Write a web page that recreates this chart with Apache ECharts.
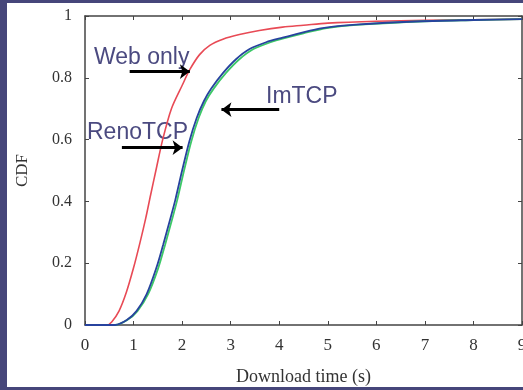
<!DOCTYPE html>
<html>
<head>
<meta charset="utf-8">
<script src="https://cdn.jsdelivr.net/npm/echarts@6/dist/echarts.min.js"></script>
<style>
  html, body { margin: 0; padding: 0; width: 523px; height: 390px; overflow: hidden; background: #46467a; }
  #main { position: absolute; left: 7px; top: 3px; width: 516px; height: 384px; background: #fff; }
</style>
</head>
<body>
<div id="main"></div>
<script>
// Web only (red)
const webX = [0, 0.45, 0.55, 0.7, 0.85, 1.0, 1.13, 1.25, 1.35, 1.46, 1.60, 1.78, 2.0, 2.16, 2.36, 2.57, 2.84, 3.18, 3.59, 4.07, 4.5, 5.0, 6.0, 7.0, 8.0, 9.0];
const webY = [0, 0, 0.01, 0.045, 0.105, 0.185, 0.265, 0.345, 0.42, 0.5, 0.6, 0.7, 0.775, 0.827, 0.875, 0.905, 0.925, 0.94, 0.953, 0.964, 0.970, 0.977, 0.983, 0.986, 0.988, 0.99];
// RenoTCP (blue)
const renoX = [0, 0.62, 0.86, 1.06, 1.27, 1.47, 1.61, 1.75, 1.86, 2.0, 2.15, 2.3, 2.45, 2.6, 2.84, 3.11, 3.39, 3.73, 4.07, 4.41, 4.89, 5.58, 6.94, 8.0, 9.0];
const renoY = [0, 0, 0.016, 0.045, 0.10, 0.185, 0.26, 0.34, 0.405, 0.5, 0.595, 0.67, 0.725, 0.765, 0.815, 0.86, 0.893, 0.915, 0.93, 0.944, 0.961, 0.972, 0.983, 0.987, 0.99];
// ImTCP (green)
const imX = [0, 0.62, 0.87, 1.08, 1.30, 1.51, 1.65, 1.79, 1.90, 2.04, 2.19, 2.34, 2.49, 2.65, 2.90, 3.18, 3.47, 3.82, 4.15, 4.5, 4.98, 5.66, 7.0, 8.0, 9.0];
const imY = [0, 0, 0.016, 0.045, 0.10, 0.185, 0.26, 0.34, 0.405, 0.5, 0.595, 0.67, 0.725, 0.765, 0.815, 0.86, 0.893, 0.915, 0.93, 0.944, 0.961, 0.972, 0.983, 0.987, 0.99];

// annotation arrows in data coords: [x0, y0, x1, y1]
const arrows = [
  [0.92, 0.82, 2.16, 0.82],
  [4.0, 0.697, 2.81, 0.697],
  [0.76, 0.574, 2.01, 0.574]
];

function pairs(xs, ys) {
  return xs.map((x, i) => [x, ys[i]]);
}

const myChart = echarts.init(document.getElementById("main"));
const axisCol = "#444";
const serif = "Liberation Serif";

const option = {
  animation: false,
  grid: { left: 78, top: 13, right: 1, bottom: 62, outerBoundsMode: "none" },
  xAxis: [
    {
      type: "value", min: 0, max: 9, interval: 1,
      name: "Download time (s)", nameLocation: "middle", nameGap: 43,
      nameTextStyle: { fontFamily: serif, fontSize: 18, color: "#333" },
      axisLine: { onZero: false, lineStyle: { color: axisCol, width: 1.5 } },
      axisTick: { inside: true, length: 4, lineStyle: { color: axisCol } },
      axisLabel: { fontFamily: serif, fontSize: 17, color: "#333", margin: 12 },
      splitLine: { show: false },
    },
    {
      type: "value", min: 0, max: 9, interval: 1, position: "top",
      axisLine: { show: true, onZero: false, lineStyle: { color: axisCol, width: 1.5 } },
      axisTick: { inside: true, length: 4, lineStyle: { color: axisCol } },
      axisLabel: { show: false },
      splitLine: { show: false },
    },
  ],
  yAxis: [
    {
      type: "value", min: 0, max: 1, interval: 0.2,
      name: "CDF", nameLocation: "middle", nameGap: 54, nameRotate: 90,
      nameTextStyle: { fontFamily: serif, fontSize: 17, color: "#333" },
      axisLine: { show: true, onZero: false, lineStyle: { color: axisCol, width: 1.5 } },
      axisTick: { show: true, inside: true, length: 4, lineStyle: { color: axisCol } },
      axisLabel: { fontFamily: serif, fontSize: 16, color: "#333", margin: 13 },
      splitLine: { show: false },
    },
    {
      type: "value", min: 0, max: 1, interval: 0.2, position: "right",
      axisLine: { show: true, onZero: false, lineStyle: { color: axisCol, width: 1.5 } },
      axisTick: { show: true, inside: true, length: 4, lineStyle: { color: axisCol } },
      axisLabel: { show: false },
      splitLine: { show: false },
    },
  ],
  series: [
    {
      name: "Web only", type: "line", data: pairs(webX, webY),
      smooth: 0.3, showSymbol: false,
      lineStyle: { color: "#e84a55", width: 1.6 },
    },
    {
      name: "ImTCP", type: "line", data: pairs(imX, imY),
      smooth: 0.3, showSymbol: false,
      lineStyle: { color: "#3cc867", width: 1.8 },
    },
    {
      name: "RenoTCP", type: "line", data: pairs(renoX, renoY),
      smooth: 0.3, showSymbol: false,
      lineStyle: { color: "#27439e", width: 1.8 },
      markLine: {
        silent: true,
        symbol: ["none", "arrow"],
        symbolSize: [11, 10],
        lineStyle: { color: "#000", width: 3, type: "solid" },
        label: { show: false },
        data: arrows.map(a => [{ coord: [a[0], a[1]] }, { coord: [a[2], a[3]] }]),
      },
    },
  ],
  graphic: [
    { type: "text", left: 87, top: 43, style: { text: "Web only", font: "23px 'Liberation Sans'", fill: "#4b4a80" } },
    { type: "text", left: 259, top: 82, style: { text: "ImTCP", font: "23px 'Liberation Sans'", fill: "#4b4a80" } },
    { type: "text", left: 80, top: 118, style: { text: "RenoTCP", font: "23px 'Liberation Sans'", fill: "#4b4a80" } },
  ],
};
myChart.setOption(option);
</script>
</body>
</html>
